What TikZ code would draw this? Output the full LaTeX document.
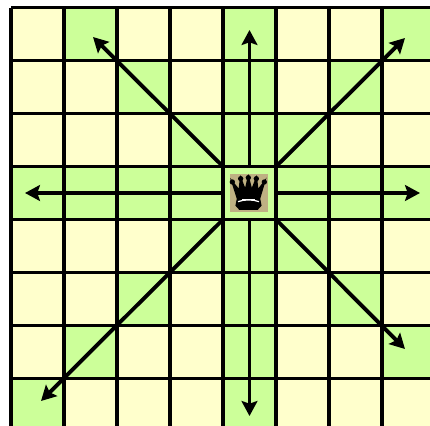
\documentclass[tikz,border=0pt]{standalone}
\usepackage{xcolor}
\usetikzlibrary{arrows.meta}
\definecolor{lightsq}{HTML}{FFFFCC}
\definecolor{attacksq}{HTML}{CCFF99}
\definecolor{platetan}{HTML}{BFB183}
\tikzset{
	gridline/.style={line width=2pt,black},
	attackarrow/.style={line width=2.2pt,black,-{Stealth[length=8.5pt,width=9pt,inset=1.5pt]}},
	queencell/.style={minimum size=1.06cm,inner sep=0pt},
	queenplate/.style={minimum size=0.78cm,inner sep=0pt,fill=platetan},
}

\begin{document}
\begin{tikzpicture}[x=0.02cm,y=-0.02cm]
	\useasboundingbox (0,0) rectangle (430,426);
	\clip (0,0) rectangle (430,426);
	
	% board
	\fill[lightsq] (11,7.5) rectangle (435,431.5);
	
	% squares the queen attacks (column/row)
	\foreach \col/\row in {1/0,4/0,7/0,2/1,4/1,6/1,3/2,4/2,5/2,
		0/3,1/3,2/3,3/3,4/3,5/3,6/3,7/3,
		3/4,4/4,5/4,2/5,4/5,6/5,1/6,4/6,7/6,0/7,4/7}
	\fill[attacksq] ({11+53*\col},{7.5+53*\row}) rectangle ++(53,53);
	
	% grid lines
	\foreach \i in {0,...,8} {
		\draw[gridline] ({11+53*\i},7.5) -- ({11+53*\i},431.5);
		\draw[gridline] (11,{7.5+53*\i}) -- (435,{7.5+53*\i});
	}
	
	% queen square and piece
	\node[queencell] (queen) at (249.5,193) {};
	\fill[attacksq] (225,169) rectangle (274,218);
	\node[queenplate] (plate) at (249,193) {};
	\begin{scope}[shift={(189,140)},x=0.00667cm,y=-0.00667cm]
		\fill (130,126) circle (8) (155,116) circle (8) (178,113) circle (8)
			(202,116) circle (8) (226,126) circle (8);
		\filldraw[line width=1pt] (146,176) -- (130,126) -- (151,152) -- (155,116) -- (169,152) -- (178,113)
			-- (188,152) -- (202,116) -- (206,152) -- (226,126) -- (211,176)
			-- (215,196) -- (205,207) -- (152,207) -- (142,196) -- cycle;
		\draw[white,line width=0.7pt] (147,185) .. controls (165,178) and (192,178) .. (210,185);
		\draw[white,line width=0.5pt] (160,177) -- (197,177);
	\end{scope}
	
	% arrow ends
	\coordinate (endn) at (249.5,30);
	\coordinate (ends) at (249.5,416);
	\coordinate (endw) at (25,193);
	\coordinate (ende) at (420,193);
	\coordinate (endnw) at (93,37);
	\coordinate (endne) at (405,38);
	\coordinate (endsw) at (41,401);
	\coordinate (endse) at (405,349);
	
	% moves
	\draw[attackarrow] (queen.north) -- (endn);
	\draw[attackarrow] (queen.south) -- (ends);
	\draw[attackarrow] (queen.west) -- (endw);
	\draw[attackarrow] (queen.east) -- (ende);
	\draw[attackarrow] (queen.north west) -- (endnw);
	\draw[attackarrow] (queen.north east) -- (endne);
	\draw[attackarrow] (queen.south west) -- (endsw);
	\draw[attackarrow] (queen.south east) -- (endse);
\end{tikzpicture}
\end{document}
